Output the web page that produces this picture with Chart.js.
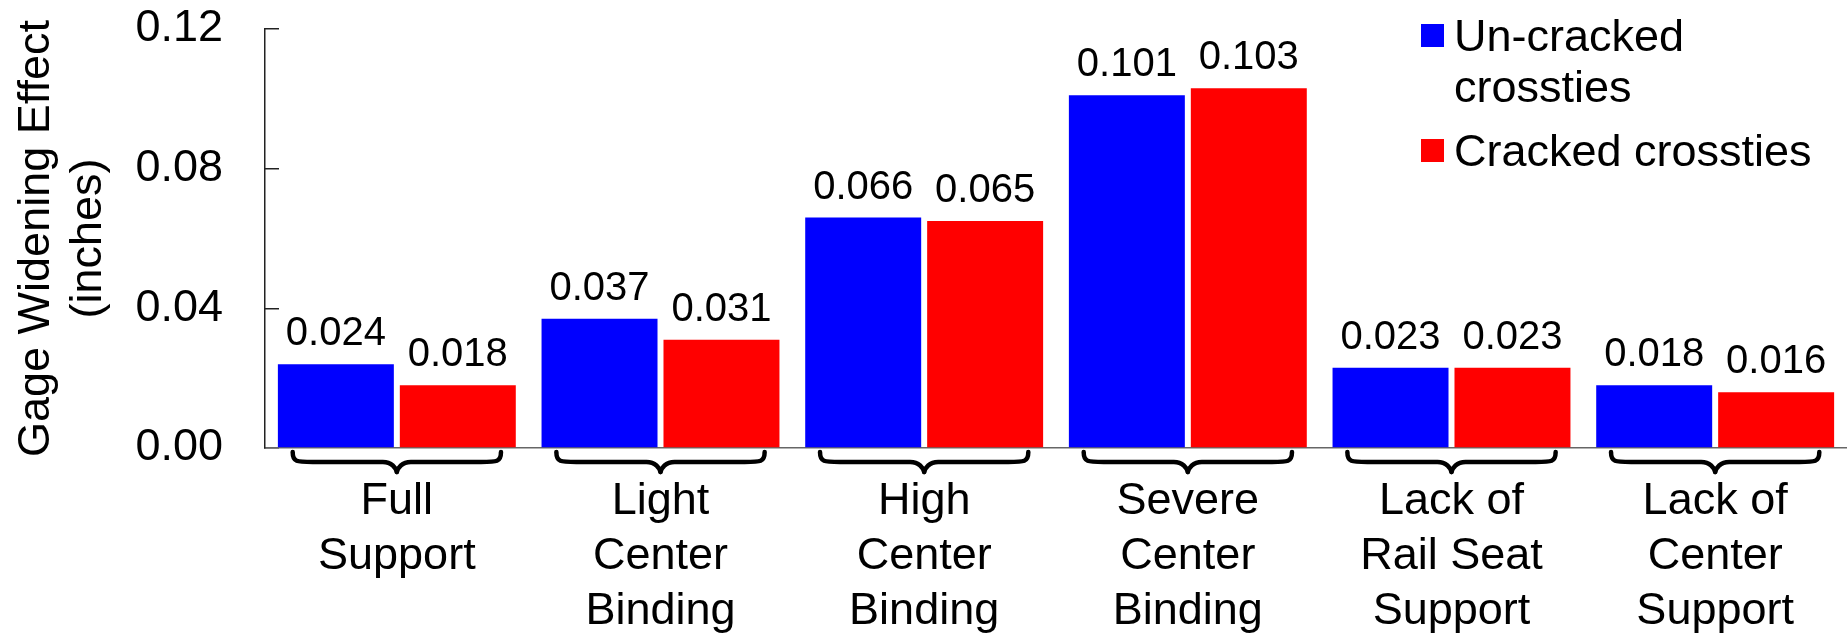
<!DOCTYPE html>
<html>
<head>
<meta charset="utf-8">
<script src="https://cdn.jsdelivr.net/npm/chart.js@4/dist/chart.umd.min.js"></script>
<style>
html,body{margin:0;padding:0;background:#fff;overflow:hidden;}
#wrap{width:1847px;height:633px;position:relative;}
</style>
</head>
<body>
<div id="wrap"><canvas id="c"></canvas></div>
<script>
const categories = [
  ["Full", "Support"],
  ["Light", "Center", "Binding"],
  ["High", "Center", "Binding"],
  ["Severe", "Center", "Binding"],
  ["Lack of", "Rail Seat", "Support"],
  ["Lack of", "Center", "Support"]
];
const uncracked = [0.024, 0.037, 0.066, 0.101, 0.023, 0.018];
const cracked   = [0.018, 0.031, 0.065, 0.103, 0.023, 0.016];
const seriesNames = [["Un-cracked", "crossties"], ["Cracked crossties"]];
const seriesColors = ['#0000FF', '#FF0000'];
const yTitle = ["Gage Widening Effect", "(inches)"];
const yMin = 0, yMax = 0.12, yStep = 0.04;

const FONT = "'Liberation Sans', Arial, Helvetica, sans-serif";

const valueLabels = {
  id: 'valueLabels',
  afterDatasetsDraw(chart) {
    const ctx = chart.ctx;
    ctx.save();
    ctx.font = "40px " + FONT;
    ctx.fillStyle = '#000';
    ctx.textAlign = 'center';
    ctx.textBaseline = 'alphabetic';
    chart.data.datasets.forEach((ds, di) => {
      const meta = chart.getDatasetMeta(di);
      meta.data.forEach((bar, i) => {
        ctx.fillText(ds.data[i].toFixed(3), bar.x, bar.y - 19);
      });
    });
    ctx.restore();
  }
};

const braces = {
  id: 'braces',
  afterDraw(chart) {
    const xs = chart.scales.x;
    const ctx = chart.ctx;
    const n = chart.data.labels.length;
    const catW = xs.width / n;
    const y0 = xs.top + 4, ym = xs.top + 14, yt = xs.top + 24;
    ctx.save();
    ctx.strokeStyle = '#000';
    ctx.lineWidth = 4.5;
    ctx.lineCap = 'round';
    ctx.lineJoin = 'round';
    for (let i = 0; i < n; i++) {
      const cx = xs.getPixelForValue(i);
      const hw = catW * 0.395;
      [-1, 1].forEach(s => {
        ctx.beginPath();
        ctx.moveTo(cx + s * hw, y0);
        ctx.bezierCurveTo(cx + s * hw, ym, cx + s * (hw - 4), ym, cx + s * (hw - 20), ym);
        ctx.lineTo(cx + s * 14, ym);
        ctx.bezierCurveTo(cx + s * 5, ym, cx + s * 1, yt - 4, cx, yt);
        ctx.stroke();
      });
    }
    ctx.restore();
  }
};

// legend drawn inside the plot, top-right, from the datasets' labels and colours
const insideLegend = {
  id: 'insideLegend',
  afterDraw(chart) {
    const ctx = chart.ctx;
    const boxX = 1421, box = 23, textX = 1454;
    const lineH = 51, itemGap = 13;
    let baseline = 51;
    ctx.save();
    ctx.font = "45px " + FONT;
    ctx.textAlign = 'left';
    ctx.textBaseline = 'alphabetic';
    chart.data.datasets.forEach(ds => {
      const lines = Array.isArray(ds.label) ? ds.label : [ds.label];
      ctx.fillStyle = ds.backgroundColor;
      ctx.fillRect(boxX, baseline - 27, box, box);
      ctx.fillStyle = '#000';
      lines.forEach((t, k) => ctx.fillText(t, textX, baseline + k * lineH));
      baseline += lines.length * lineH + itemGap;
    });
    ctx.restore();
  }
};

new Chart(document.getElementById('c'), {
  type: 'bar',
  data: {
    labels: categories,
    datasets: [
      { label: seriesNames[0], data: uncracked, backgroundColor: seriesColors[0], borderWidth: 0 },
      { label: seriesNames[1], data: cracked, backgroundColor: seriesColors[1], borderWidth: 0 }
    ]
  },
  options: {
    responsive: true,
    maintainAspectRatio: false,
    animation: false,
    categoryPercentage: 0.925,
    barPercentage: 0.951,
    layout: { padding: { left: 5, top: 29, right: 0, bottom: 0 } },
    plugins: {
      tooltip: { enabled: false },
      legend: { display: false }
    },
    scales: {
      x: {
        grid: { display: false, drawTicks: false },
        border: { display: true, color: '#666', width: 1.5 },
        ticks: {
          color: '#000',
          padding: 26,
          maxRotation: 0,
          autoSkip: false,
          font: { family: FONT, size: 45, lineHeight: 55 / 45 }
        },
        afterFit(s) { s.height = 185; }
      },
      y: {
        min: yMin,
        max: yMax,
        grid: { drawOnChartArea: false, drawTicks: true, tickLength: -14, color: '#222', lineWidth: 1.5 },
        border: { display: true, color: '#222', width: 1.5 },
        ticks: {
          stepSize: yStep,
          color: '#000',
          padding: 56,
          font: { family: FONT, size: 45 },
          callback: v => Number(v).toFixed(2)
        },
        title: {
          display: true,
          text: yTitle,
          color: '#000',
          font: { family: FONT, size: 45, lineHeight: 52 / 45 },
          padding: { top: 6, bottom: 0 }
        },
        afterFit(s) { s.width = 260; s.paddingTop = 20; s.paddingBottom = 20; }
      }
    }
  },
  plugins: [valueLabels, braces, insideLegend]
});
</script>
</body>
</html>
